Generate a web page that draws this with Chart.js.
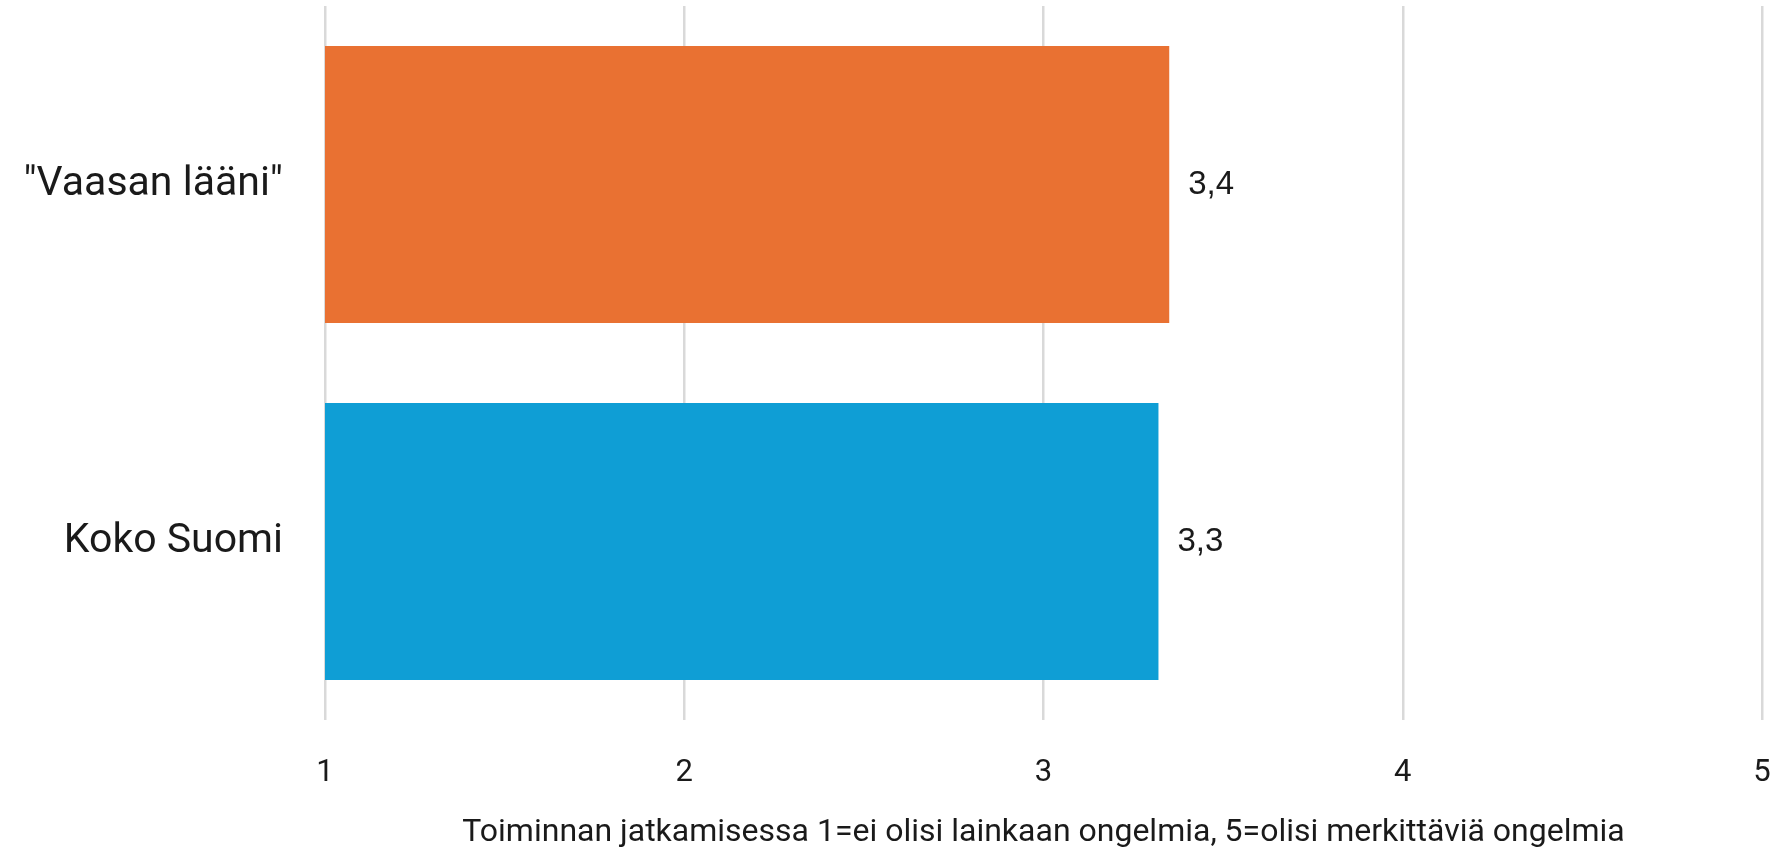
<!DOCTYPE html>
<html>
<head>
<meta charset="utf-8">
<script src="https://cdn.jsdelivr.net/npm/chart.js@4/dist/chart.umd.min.js"></script>
<style>
  html, body { margin: 0; padding: 0; background: #fff; }
  #wrap { width: 1773px; height: 852px; }
</style>
</head>
<body>
<div id="wrap"><canvas id="chart"></canvas></div>
<script>
const categories = ['"Vaasan lääni"', 'Koko Suomi'];
const values = [3.35, 3.32];
const barColors = ['#E97132', '#0F9ED5'];
const xTicks = [1, 2, 3, 4, 5];
const axisTitle = 'Toiminnan jatkamisessa 1=ei olisi lainkaan ongelmia, 5=olisi merkittäviä ongelmia';

const fontFamily = "Roboto, 'Open Sans', sans-serif";

function formatValue(v) {
  return v.toFixed(1).replace('.', ',');
}

// draws the value next to each bar end
const valueLabels = {
  id: 'valueLabels',
  afterDatasetsDraw(chart) {
    const ctx = chart.ctx;
    const meta = chart.getDatasetMeta(0);
    ctx.save();
    ctx.font = "33px 'Liberation Sans', Arial, sans-serif";
    ctx.fillStyle = '#1a1a1a';
    ctx.textAlign = 'left';
    ctx.textBaseline = 'middle';
    meta.data.forEach((bar, i) => {
      ctx.fillText(formatValue(values[i]), bar.x + 19, bar.y);
    });
    ctx.restore();
  }
};

new Chart(document.getElementById('chart'), {
  type: 'bar',
  data: {
    labels: categories,
    datasets: [{
      data: values,
      backgroundColor: barColors,
      borderWidth: 0,
      categoryPercentage: 1,
      barPercentage: 0.776
    }]
  },
  options: {
    indexAxis: 'y',
    responsive: true,
    maintainAspectRatio: false,
    animation: false,
    layout: { padding: { top: 6, right: 11, bottom: 0, left: 0 } },
    plugins: {
      legend: { display: false },
      tooltip: { enabled: false }
    },
    scales: {
      x: {
        min: 1,
        max: 5,
        afterBuildTicks: (axis) => { axis.ticks = xTicks.map(v => ({ value: v })); },
        afterFit: (axis) => {
          axis.height = 132;
          axis.paddingLeft = 0;
          axis.paddingRight = 0;
        },
        grid: { color: '#d9d9d9', lineWidth: 2.5, drawTicks: false },
        border: { display: false },
        ticks: {
          color: '#1a1a1a',
          padding: 35,
          font: { family: fontFamily, size: 31 }
        },
        title: {
          display: true,
          text: axisTitle,
          color: '#1a1a1a',
          font: { family: fontFamily, size: 32 },
          padding: { top: 20, bottom: 0 }
        }
      },
      y: {
        grid: { display: false, drawTicks: false },
        border: { display: false },
        afterFit: (axis) => {
          axis.width = 325;
          axis.paddingTop = 0;
          axis.paddingBottom = 0;
        },
        ticks: {
          color: '#1a1a1a',
          padding: 42,
          font: { family: fontFamily, size: 41 }
        }
      }
    }
  },
  plugins: [valueLabels]
});
</script>
</body>
</html>
